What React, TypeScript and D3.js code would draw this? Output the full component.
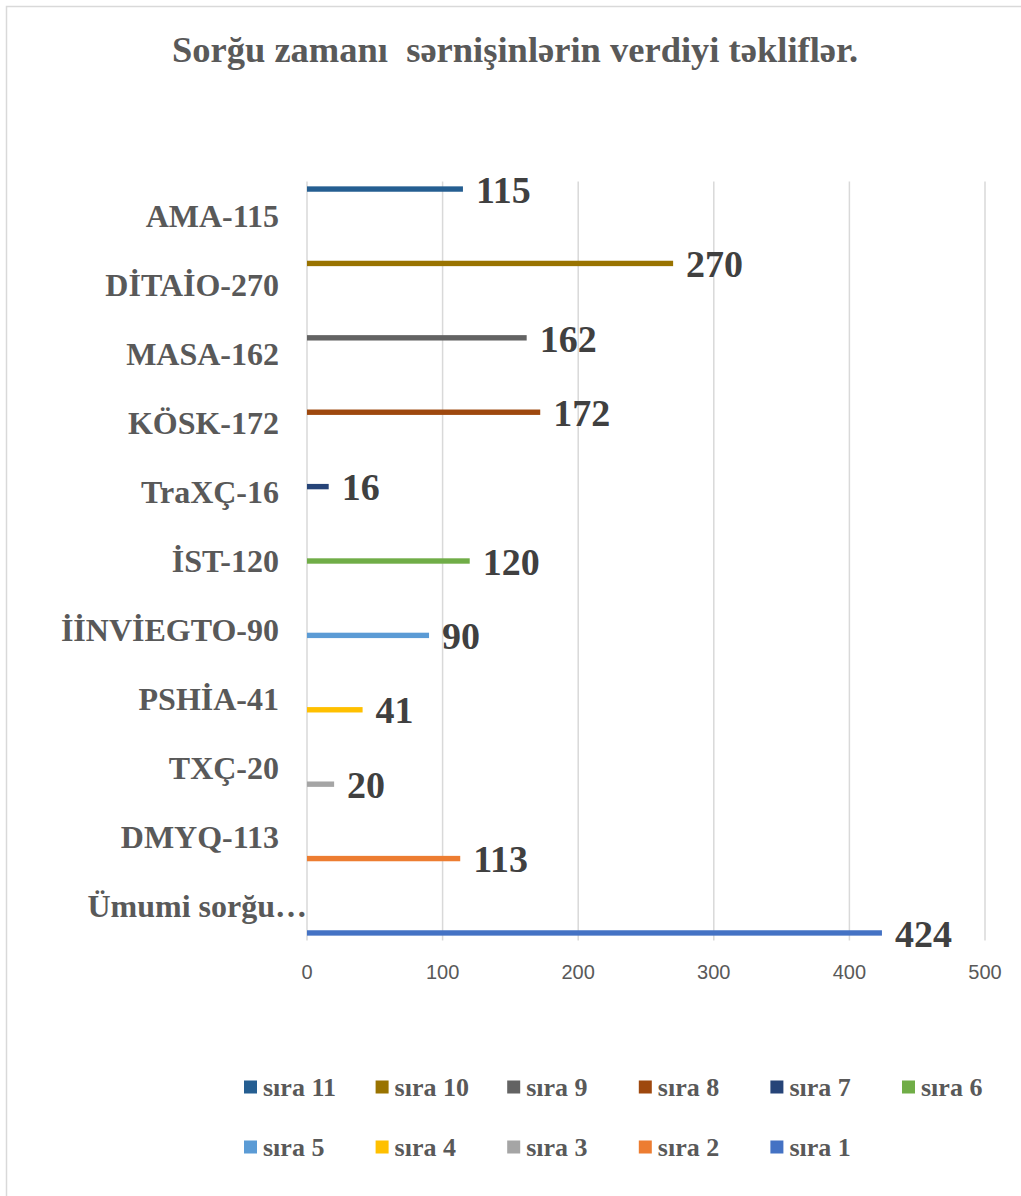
import React from "react";
import * as d3 from "d3";

const categories = [
  "Ümumi sorğu…",
  "DMYQ-113",
  "TXÇ-20",
  "PSHİA-41",
  "İİNVİEGTO-90",
  "İST-120",
  "TraXÇ-16",
  "KÖSK-172",
  "MASA-162",
  "DİTAİO-270",
  "AMA-115",
];
const seriesNames = [
  "sıra 1", "sıra 2", "sıra 3", "sıra 4", "sıra 5", "sıra 6",
  "sıra 7", "sıra 8", "sıra 9", "sıra 10", "sıra 11",
];
// series i has a single value, in category i
const seriesValues = [424, 113, 20, 41, 90, 120, 16, 172, 162, 270, 115];
const seriesColors = [
  "#4472C4", "#ED7D31", "#A5A5A5", "#FFC000", "#5B9BD5", "#70AD47",
  "#264478", "#9E480E", "#636363", "#997300", "#255E91",
];
const xTicks = [0, 100, 200, 300, 400, 500];
const legendOrder = [10, 9, 8, 7, 6, 5, 4, 3, 2, 1, 0];

const W = 1021;
const H = 1196;
const SERIF = "'Liberation Serif', 'Times New Roman', serif";
const SANS = "'Liberation Sans', Arial, sans-serif";

export default function App() {
  const x = d3.scaleLinear().domain([0, 500]).range([307, 985]);
  const plotTop = 181.5;
  const plotBottom = 940.5;
  const y0 = d3.scaleBand<string>().domain(categories).range([plotBottom, plotTop]).padding(0);
  const y1 = d3
    .scaleBand<string>()
    .domain(seriesNames)
    .range([y0.bandwidth(), 0])
    .paddingInner(0)
    .paddingOuter(0.9);

  const bars = seriesNames.map((s, i) => {
    const cat = categories[i];
    const v = seriesValues[i];
    const yTop = (y0(cat) as number) + (y1(s) as number);
    return { s, cat, v, yTop, h: y1.bandwidth(), color: seriesColors[i] };
  });

  return (
    <svg
      width={W}
      height={H}
      style={{ position: "absolute", left: 0, top: 0, background: "#fff" }}
    >
      <rect x={0} y={0} width={W} height={H} fill="#fff" />
      <rect x={6.5} y={6.5} width={W + 20} height={H + 20} fill="none" stroke="#D9D9D9" strokeWidth={1.5} />

      <text
        x={515}
        y={62}
        textAnchor="middle"
        fontFamily={SERIF}
        fontWeight="bold"
        fontSize={36.5}
        fill="#595959"
        xmlSpace="preserve"
      >
        {"Sorğu zamanı  sərnişinlərin verdiyi təkliflər."}
      </text>

      {/* gridlines */}
      {xTicks.map((t) => (
        <line key={t} x1={x(t)} x2={x(t)} y1={plotTop} y2={plotBottom} stroke="#D9D9D9" strokeWidth={1.5} />
      ))}

      {/* tick labels */}
      {xTicks.map((t) => (
        <text
          key={"t" + t}
          x={x(t)}
          y={979}
          textAnchor="middle"
          fontFamily={SANS}
          fontSize={20}
          fill="#595959"
        >
          {t}
        </text>
      ))}

      {/* category labels */}
      {categories.map((c, i) => (
        <text
          key={c}
          x={i === 0 ? 307 : 279}
          y={(y0(c) as number) + y0.bandwidth() / 2}
          dy="0.35em"
          textAnchor="end"
          fontFamily={SERIF}
          fontWeight="bold"
          fontSize={32}
          fill="#595959"
        >
          {c}
        </text>
      ))}

      {/* bars */}
      {bars.map((b) => (
        <rect key={b.s} x={x(0)} y={b.yTop} width={x(b.v) - x(0)} height={b.h} fill={b.color} />
      ))}

      {/* value labels */}
      {bars.map((b) => (
        <text
          key={"v" + b.s}
          x={x(b.v) + 13}
          y={b.yTop + b.h / 2}
          dy="0.36em"
          fontFamily={SERIF}
          fontWeight="bold"
          fontSize={38}
          fill="#404040"
        >
          {b.v}
        </text>
      ))}

      {/* legend */}
      {legendOrder.map((si, k) => {
        const col = k % 6;
        const row = Math.floor(k / 6);
        const lx = 244 + col * 131.6;
        const ly = 1087 + row * 60;
        return (
          <g key={"l" + si}>
            <rect x={lx} y={ly - 6.5} width={13} height={13} fill={seriesColors[si]} />
            <text
              x={lx + 19}
              y={ly}
              dy="0.35em"
              fontFamily={SERIF}
              fontWeight="bold"
              fontSize={26}
              fill="#595959"
            >
              {seriesNames[si]}
            </text>
          </g>
        );
      })}
    </svg>
  );
}
